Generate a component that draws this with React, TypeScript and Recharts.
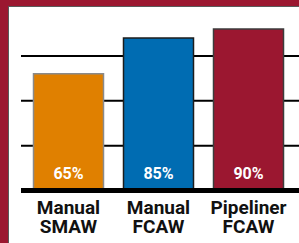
import React from 'react';
import { BarChart, Bar, XAxis, YAxis, CartesianGrid, Cell, LabelList } from 'recharts';

const categories = ['Manual SMAW', 'Manual FCAW', 'Pipeliner FCAW'];
const efficiency = [65, 85, 90];
const gridTicks = [0, 25, 50, 75];

const barColors = ['#e08000', '#006cb2', '#9b1730'];
const barStrokes = ['#8a8a8a', '#1c1c1c', '#3c3c3c'];

const data = categories.map((name, i) => ({ name, value: efficiency[i] }));

const FONT = 'Roboto, "DejaVu Sans", sans-serif';

const CategoryTick = (props: any) => {
  const { x, y, payload } = props;
  const label: string = payload.value;
  const idx = label.indexOf(' ');
  const first = label.slice(0, idx);
  const second = label.slice(idx + 1);
  return (
    <text x={x} y={y} textAnchor="middle" fill="#111" fontFamily={FONT} fontWeight={700} fontSize={19}>
      <tspan x={x} dy={23.5}>{first}</tspan>
      <tspan x={x} dy={19}>{second}</tspan>
    </text>
  );
};

const PercentLabel = (props: any) => {
  const { x, y, width, height, value } = props;
  return (
    <text
      x={x + width / 2}
      y={y + height - 11.5}
      textAnchor="middle"
      fill="#ffffff"
      fontFamily={FONT}
      fontWeight={700}
      fontSize={16}
    >
      {`${value}%`}
    </text>
  );
};

export default function App() {
  return (
    <div style={{ position: 'fixed', left: 0, top: 0, width: 299, height: 243, background: '#9b1730', overflow: 'hidden' }}>
      <div
        style={{
          position: 'absolute',
          left: 8,
          top: 6,
          width: 299,
          height: 243,
          background: '#ffffff',
          borderLeft: '1.5px solid #5a5a5a',
          borderTop: '1.5px solid #5a5a5a',
        }}
      />
      <div style={{ position: 'absolute', left: 0, top: 0 }}>
        <BarChart width={299} height={243} data={data} margin={{ top: 11, right: 0, bottom: 22.5, left: 21 }}>
          <CartesianGrid vertical={false} stroke="#000" strokeWidth={2} syncWithTicks />
          <YAxis hide domain={[0, 100]} ticks={gridTicks} />
          <Bar dataKey="value" barSize={70} strokeWidth={1.5} isAnimationActive={false}>
            {data.map((d, i) => (
              <Cell key={d.name} fill={barColors[i]} stroke={barStrokes[i]} />
            ))}
            <LabelList dataKey="value" content={PercentLabel} />
          </Bar>
          <XAxis
            dataKey="name"
            height={30}
            padding={{ left: 2.5, right: 5.5 }}
            axisLine={{ stroke: '#000', strokeWidth: 5 }}
            tickLine={false}
            tickSize={0}
            tickMargin={0}
            tick={<CategoryTick />}
            interval={0}
          />
        </BarChart>
      </div>
    </div>
  );
}
